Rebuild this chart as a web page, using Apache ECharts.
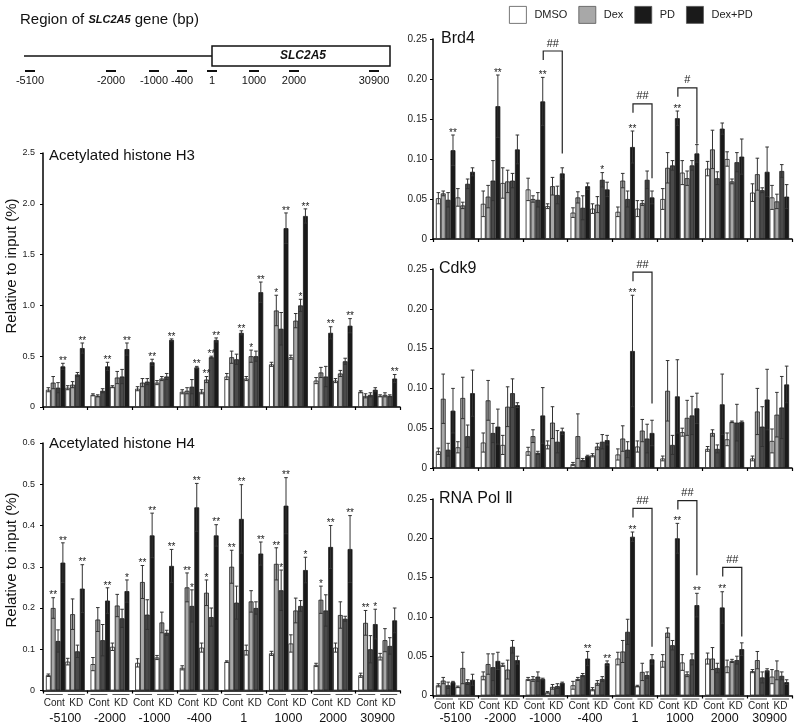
<!DOCTYPE html>
<html><head><meta charset="utf-8">
<script src="https://cdn.jsdelivr.net/npm/echarts@6.0.0/dist/echarts.min.js"></script>
<style>html,body{margin:0;padding:0;background:#fff}#c{width:795px;height:725px}</style>
</head><body><div id="c"></div>
<script>
// ---------- data ----------
const regions = ['-5100','-2000','-1000','-400','1','1000','2000','30900'];
const groups = ['Cont','KD'];
const treatments = ['DMSO','Dex','PD','Dex+PD'];
// columns: region0 Cont, region0 KD, region1 Cont, region1 KD, ...
// rows: DMSO, Dex, PD, Dex+PD
const h3Mean = [
  [.17,.19,.12,.20,.18,.24,.15,.15,.30,.28,.42,.49,.26,.26,.15,.11],
  [.24,.22,.11,.29,.24,.28,.16,.27,.49,.50,.95,.85,.34,.33,.11,.12],
  [.19,.32,.16,.30,.25,.30,.20,.49,.47,.50,.77,1.00,.30,.45,.12,.11],
  [.40,.58,.40,.57,.44,.66,.39,.66,.73,1.13,1.76,1.88,.73,.80,.17,.28]
];
const h3Err = [
  [.02,.02,.01,.01,.02,.02,.02,.02,.03,.02,.02,.02,.03,.02,.01,.01],
  [.06,.03,.01,.06,.04,.02,.03,.03,.06,.06,.15,.07,.05,.03,.02,.02],
  [.05,.02,.02,.07,.03,.03,.07,.01,.05,.05,.16,.06,.10,.03,.02,.01],
  [.03,.05,.04,.06,.03,.01,.01,.02,.02,.10,.15,.07,.06,.07,.02,.04]
];
const h3Sig = [[3,0,'**'],[3,1,'**'],[3,2,'**'],[3,3,'**'],[3,4,'**'],[3,5,'**'],[3,6,'**'],[1,7,'**'],[2,7,'**'],[3,7,'**'],
  [3,8,'**'],[1,9,'*'],[3,9,'**'],[1,10,'*'],[3,10,'**'],[2,11,'*'],[3,11,'**'],[3,12,'**'],[3,13,'**'],[3,15,'**']];

const h4Mean = [
  [.037,.07,.064,.106,.067,.08,.055,.104,.07,.098,.09,.114,.062,.104,.037,.082],
  [.20,.185,.172,.206,.263,.165,.25,.237,.30,.216,.307,.194,.22,.183,.164,.122],
  [.12,.095,.122,.175,.184,.14,.205,.178,.213,.2,.243,.205,.194,.174,.1,.108],
  [.31,.247,.218,.241,.376,.302,.444,.376,.416,.332,.448,.292,.348,.343,.161,.17]
];
const h4Err = [
  [.003,.008,.016,.009,.01,.005,.005,.011,.002,.012,.005,.021,.004,.011,.005,.008],
  [.025,.037,.029,.027,.04,.025,.035,.031,.04,.026,.039,.03,.033,.032,.03,.028],
  [.027,.015,.038,.022,.036,.006,.039,.022,.04,.015,.049,.013,.038,.006,.033,.02],
  [.048,.058,.031,.027,.054,.04,.058,.026,.083,.028,.068,.031,.052,.081,.036,.03]
];
const h4Sig = [[1,0,'**'],[3,0,'**'],[3,1,'**'],[3,2,'**'],[3,3,'*'],[1,4,'**'],[3,4,'**'],[3,5,'**'],
  [1,6,'**'],[2,6,'*'],[3,6,'**'],[1,7,'*'],[3,7,'**'],[1,8,'**'],[3,8,'**'],[3,9,'**'],
  [1,10,'**'],[2,10,'*'],[3,10,'**'],[3,11,'*'],[1,12,'*'],[3,12,'**'],[3,13,'**'],[1,14,'**'],[3,14,'*']];

const brd4Mean = [
  [.051,.052,.044,.07,.062,.041,.033,.038,.034,.038,.05,.083,.088,.1,.058,.052],
  [.057,.042,.053,.072,.05,.066,.052,.043,.073,.045,.089,.076,.112,.072,.081,.047],
  [.049,.069,.073,.073,.049,.055,.039,.074,.05,.074,.092,.092,.076,.096,.061,.085],
  [.111,.084,.166,.112,.172,.082,.066,.062,.115,.052,.151,.107,.138,.103,.084,.053]
];
const brd4Err = [
  [.007,.011,.016,.019,.014,.003,.006,.006,.006,.01,.013,.015,.009,.009,.011,.015],
  [.003,.004,.014,.014,.004,.011,.007,.01,.009,.003,.019,.009,.024,.003,.02,.009],
  [.009,.006,.025,.009,.009,.011,.015,.009,.01,.011,.006,.006,.008,.012,.003,.008],
  [.019,.005,.039,.018,.03,.007,.004,.009,.02,.008,.009,.011,.007,.022,.031,.015]
];
const brd4Sig = [[3,0,'**'],[3,2,'**'],[3,4,'**'],[2,7,'*'],[3,8,'**'],[3,10,'**']];
const brd4Brackets = [[2,0.235,0.107,'##'],[4,0.169,0.076,'##'],[5,0.189,0.119,'#']];

const cdk9Mean = [
  [.021,.026,.032,.029,.021,.029,.005,.016,.017,.027,.012,.045,.024,.036,.012,.034],
  [.087,.088,.085,.077,.04,.057,.04,.027,.037,.047,.097,.063,.044,.058,.071,.067],
  [.023,.04,.044,.094,.019,.033,.01,.033,.023,.037,.029,.066,.024,.057,.052,.076],
  [.072,.094,.052,.079,.066,.046,.015,.035,.147,.044,.09,.075,.08,.058,.086,.105]
];
const cdk9Err = [
  [.004,.007,.012,.012,.005,.005,.002,.002,.007,.007,.003,.005,.003,.008,.003,.015],
  [.031,.026,.025,.025,.008,.02,.028,.004,.016,.014,.038,.022,.004,.001,.029,.028],
  [.008,.014,.012,.018,.002,.014,.002,.009,.01,.018,.012,.024,.005,.023,.025,.039],
  [.028,.029,.022,.003,.035,.004,.001,.006,.07,.016,.046,.019,.038,.001,.038,.023]
];
const cdk9Sig = [[3,8,'**']];
const cdk9Brackets = [[4,0.246,0.081,'##']];

const polMean = [
  [.013,.011,.025,.039,.021,.004,.013,.008,.047,.012,.044,.042,.047,.037,.031,.024],
  [.019,.035,.04,.033,.021,.011,.021,.016,.056,.03,.08,.027,.047,.044,.045,.032],
  [.013,.017,.036,.062,.024,.012,.026,.021,.081,.026,.064,.046,.035,.045,.023,.025],
  [.017,.02,.044,.045,.021,.016,.047,.041,.202,.046,.2,.115,.112,.059,.032,.017]
];
const polErr = [
  [.002,.001,.005,.002,.002,.001,.005,.002,.008,.001,.008,.01,.007,.008,.002,.009],
  [.004,.02,.013,.012,.003,.003,.002,.003,.014,.011,.006,.003,.014,.002,.011,.012],
  [.004,.003,.017,.008,.006,.003,.002,.003,.016,.004,.006,.007,.006,.005,.007,.005],
  [.001,.007,.011,.005,.001,.001,.009,.003,.006,.006,.019,.015,.02,.008,.002,.003]
];
const polSig = [[3,6,'**'],[3,7,'**'],[3,8,'**'],[3,10,'**'],[3,11,'**'],[3,12,'**']];
const polBrackets = [[4,0.238,0.062,'##'],[5,0.248,0.153,'##'],[6,0.163,0.075,'##']];

const panelTitles = ['Acetylated histone H3','Acetylated histone H4','Brd4','Cdk9','RNA Pol \u2161'];
const yTitle = 'Relative to input (%)';

// ---------- chart ----------
const FONT = 'Liberation Sans, Arial, Helvetica, sans-serif';
const GAP = 0.13;
const colors = ['#ffffff','#a8a8a8','#4a4a4a','#1a1a1a'];

const panels = [
  {mean:h3Mean, err:h3Err, sig:h3Sig, br:[], grid:{left:43,right:395,top:153,bottom:318}, max:2.5, interval:0.5, dec:1, labels:false, fs:9, margin:8},
  {mean:h4Mean, err:h4Err, sig:h4Sig, br:[], grid:{left:43,right:395,top:443,bottom:33}, max:0.6, interval:0.1, dec:1, labels:true, lh:[4,13,18], fs:9, margin:8},
  {mean:brd4Mean, err:brd4Err, sig:brd4Sig, br:brd4Brackets, grid:{left:433,right:3,top:39,bottom:486}, max:0.25, interval:0.05, dec:2, labels:false, fs:10, margin:6},
  {mean:cdk9Mean, err:cdk9Err, sig:cdk9Sig, br:cdk9Brackets, grid:{left:433,right:3,top:269,bottom:257}, max:0.25, interval:0.05, dec:2, labels:false, fs:10, margin:6},
  {mean:polMean, err:polErr, sig:polSig, br:polBrackets, grid:{left:433,right:3,top:499,bottom:29}, max:0.25, interval:0.05, dec:2, labels:true, lh:[3,11,14], fs:10, margin:6}
];

const grids = [], xAxes = [], yAxes = [], series = [];
panels.forEach((p, i) => {
  grids.push(Object.assign({}, p.grid));
  const xl = p.labels ? {
    show:true, interval:0, margin:2, color:'#222', fontFamily:FONT,
    formatter: v => '{u| }{g| }{u| }\n{c|' + groups[0] + '}{k|' + groups[1] + '}\n{r|' + v + '}',
    rich:{
      u:{width:17, height:1, lineHeight:p.lh[0], fontSize:1, backgroundColor:'#555', align:'center'},
      g:{width:5, height:1, lineHeight:p.lh[0], fontSize:1, align:'center'},
      c:{width:22, align:'center', fontSize:10, lineHeight:p.lh[1], color:'#222', fontFamily:FONT},
      k:{width:22, align:'center', fontSize:10, lineHeight:p.lh[1], color:'#222', fontFamily:FONT},
      r:{align:'center', fontSize:12.5, lineHeight:p.lh[2], color:'#111', fontFamily:FONT}
    }
  } : {show:false};
  xAxes.push({type:'category', gridIndex:i, data:regions, boundaryGap:true,
    axisLine:{show:true, lineStyle:{color:'#000', width:1.5}},
    axisTick:{show:true, length:3, lineStyle:{color:'#000', width:1.2}},
    axisLabel:xl, splitLine:{show:false}});
  yAxes.push({type:'value', gridIndex:i, min:0, max:p.max, interval:p.interval,
    axisLine:{show:true, lineStyle:{color:'#000', width:1.5}},
    axisTick:{show:true, length:3, lineStyle:{color:'#000', width:1}},
    axisLabel:{fontSize:p.fs, color:'#222', margin:p.margin, fontFamily:FONT,
      formatter: v => v === 0 ? '0' : v.toFixed(p.dec)},
    splitLine:{show:false}});
  groups.forEach((g, gi) => {
    treatments.forEach((t, ti) => {
      series.push({type:'bar', name:t, xAxisIndex:i, yAxisIndex:i, barGap:'0%', barCategoryGap:(GAP*100)+'%',
        data: regions.map((r, ri) => p.mean[ti][ri*2+gi]),
        itemStyle:{color:colors[ti], borderColor:'#1a1a1a', borderWidth:0.8},
        silent:true, animation:false});
    });
  });
  // error bars + significance marks
  const sigMap = {};
  p.sig.forEach(s => { sigMap[s[0] + '_' + s[1]] = s[2]; });
  const items = [];
  for (let ti = 0; ti < 4; ti++) for (let ri = 0; ri < regions.length; ri++) for (let gi = 0; gi < 2; gi++) {
    const col = ri*2 + gi;
    items.push({r:ri, v:p.mean[ti][col], e:p.err[ti][col], j:gi*4+ti, s:sigMap[ti+'_'+col] || ''});
  }
  series.push({type:'custom', name:'err'+i, xAxisIndex:i, yAxisIndex:i, silent:true, animation:false, z:5,
    data: items.map(it => [it.r, it.v + it.e]),
    encode:{x:0, y:1},
    renderItem: (params, api) => {
      const it = items[params.dataIndex];
      const band = api.size([1, 0])[0];
      const bw = band * (1 - GAP) / 8;
      const c0 = api.coord([it.r, it.v]);
      const x = c0[0] - 4*bw + bw*(it.j + 0.5);
      const yT = api.coord([it.r, it.v + it.e])[1];
      const yB = api.coord([it.r, Math.max(0, it.v - it.e)])[1];
      const cap = 1.8;
      const st = {stroke:'#333', lineWidth:1};
      const ch = [
        {type:'line', shape:{x1:x, y1:yB, x2:x, y2:yT}, style:st},
        {type:'line', shape:{x1:x-cap, y1:yT, x2:x+cap, y2:yT}, style:st},
        {type:'line', shape:{x1:x-cap, y1:yB, x2:x+cap, y2:yB}, style:st}
      ];
      if (it.s) ch.push({type:'text', style:{text:it.s, x:x, y:yT + 3, align:'center', verticalAlign:'bottom',
        font:'10px ' + FONT, fill:'#222'}});
      return {type:'group', children:ch};
    }});
  if (p.br.length) {
    series.push({type:'custom', name:'br'+i, xAxisIndex:i, yAxisIndex:i, silent:true, animation:false, z:6,
      data: p.br.map(b => [b[0], b[1]]),
      encode:{x:0, y:1},
      renderItem: (params, api) => {
        const b = p.br[params.dataIndex];
        const band = api.size([1, 0])[0];
        const bw = band * (1 - GAP) / 8;
        const cx = api.coord([b[0], 0])[0];
        const xL = cx - 0.4*bw, xR = cx + 3.5*bw;
        const yT = api.coord([b[0], b[1]])[1];
        const yR = api.coord([b[0], b[2]])[1];
        return {type:'group', children:[
          {type:'polyline', shape:{points:[[xL, yT+9], [xL, yT], [xR, yT], [xR, yR]]},
            style:{stroke:'#222', lineWidth:1.2, fill:null}},
          {type:'text', style:{text:b[3], x:(xL+xR)/2, y:yT - 2, align:'center', verticalAlign:'bottom',
            font:'11px ' + FONT, fill:'#222'}}
        ]};
      }});
  }
});

// gene diagram + titles
const diagX = [30, 111, 154, 182, 212, 254, 294, 374];
const graphic = [
  {type:'text', left:20, top:12, style:{
    text:'{a|Region of }{b|SLC2A5}{a| gene (bp)}',
    rich:{a:{fontSize:15, fontFamily:FONT, fill:'#111'}, b:{fontSize:11, fontWeight:'bold', fontStyle:'italic', fontFamily:FONT, fill:'#111'}}}},
  {type:'line', shape:{x1:24, y1:56, x2:212, y2:56}, style:{stroke:'#111', lineWidth:1.5}},
  {type:'rect', shape:{x:212, y:46, width:178, height:20}, style:{stroke:'#111', lineWidth:1.5, fill:'#fff'}},
  {type:'text', x:303, y:56, style:{text:'SLC2A5', align:'center', verticalAlign:'middle',
    font:'italic bold 12px ' + FONT, fill:'#111'}}
];
regions.forEach((r, k) => {
  graphic.push({type:'line', shape:{x1:diagX[k]-5, y1:71, x2:diagX[k]+5, y2:71}, style:{stroke:'#111', lineWidth:2}});
  graphic.push({type:'text', x:diagX[k], y:81, style:{text:r, align:'center', verticalAlign:'middle', font:'11px ' + FONT, fill:'#111'}});
});
const titlePos = [[49,148,15],[49,436,15],[441,31,16],[439,261,16],[439,491,16]];
panelTitles.forEach((t, k) => {
  graphic.push({type:'text', x:titlePos[k][0], y:titlePos[k][1], style:{text:t, font:titlePos[k][2] + 'px ' + FONT, fill:'#111'}});
});
[266, 560].forEach(cy => {
  graphic.push({type:'text', x:12, y:cy, rotation:Math.PI/2, style:{text:yTitle, align:'center', verticalAlign:'middle',
    font:'15px ' + FONT, fill:'#111'}});
});

const chart = echarts.init(document.getElementById('c'), null, {renderer:'canvas'});
chart.setOption({
  backgroundColor:'#fff',
  animation:false,
  legend:{left:504, top:1, itemWidth:17, itemHeight:17, itemGap:11, icon:'rect',
    itemStyle:{borderWidth:0.8, borderColor:'#555'},
    textStyle:{fontSize:11, color:'#222', fontFamily:FONT, padding:[0,0,0,3]},
    data:[{name:'DMSO'}, {name:'Dex'}, {name:'PD', itemStyle:{color:'#1a1a1a'}}, {name:'Dex+PD'}]},
  grid:grids, xAxis:xAxes, yAxis:yAxes, series:series, graphic:graphic
});
</script>
</body></html>
